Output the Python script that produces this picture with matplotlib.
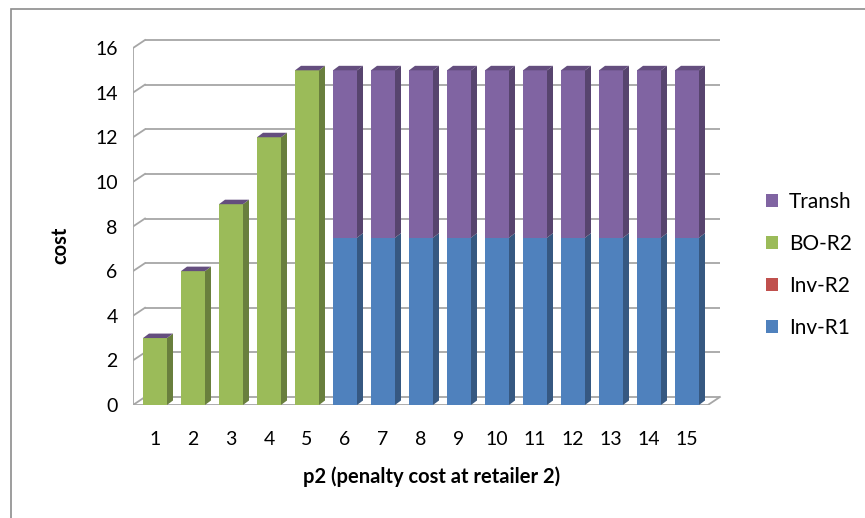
import matplotlib
matplotlib.use("Agg")
import matplotlib.pyplot as plt
from matplotlib.patches import Polygon, Rectangle, Patch
from matplotlib.colors import to_rgb

plt.rcParams['font.family'] = ['Lato', 'DejaVu Sans']

# p2 values and cost components (stacked in this order)
p2 = list(range(1, 16))
inv_r1 = [0, 0, 0, 0, 0] + [7.5] * 10
inv_r2 = [0] * 15
bo_r2 = [3, 6, 9, 12, 15] + [0] * 10
transh = [0, 0, 0, 0, 0] + [7.5] * 10

series = [("Inv-R1", inv_r1, "#4F81BD"),
          ("Inv-R2", inv_r2, "#C0504D"),
          ("BO-R2", bo_r2, "#9BBB59"),
          ("Transh", transh, "#8064A2")]

yticks = list(range(0, 17, 2))


def shade(c, f):
    r, g, b = to_rgb(c)
    return (r * f, g * f, b * f)


fig = plt.figure(figsize=(8.65, 5.18), dpi=100)
ax = fig.add_axes([133 / 865, 1 - 405 / 518, 592 / 865, 379.3 / 518])
x0, x1 = 1 - 22 / 38, 16.0
ax.set_xlim(x0, x1)
ax.set_ylim(0, 17)
for s in ax.spines.values():
    s.set_visible(False)

# depth of the walls and of the columns, in data units
wdx, wdy = 12 / 38, 8 / 22.31
bdx, bdy = 6 / 38, 4.5 / 22.31
bw = 24 / 38
xr_front = 15 + 0.5 + 0.05

grid_c = "#a6a6a6"
# back wall gridlines and left wall diagonals
for v in yticks:
    ax.plot([x0 + wdx, xr_front + wdx], [v + wdy, v + wdy], color=grid_c, lw=1.3, zorder=1,
            solid_capstyle='butt')
    ax.plot([x0, x0 + wdx], [v, v + wdy], color=grid_c, lw=1.3, zorder=1)
ax.plot([x0, x0], [0, 16], color=grid_c, lw=1.3, zorder=1)
# floor outline
ax.plot([x0, xr_front, xr_front + wdx], [0, 0, wdy], color=grid_c, lw=1.3, zorder=1)

# stacked 3d columns
bottoms = [0.0] * len(p2)
for name, vals, col in series:
    ax.bar(p2, vals, width=bw, bottom=bottoms, color=col, zorder=3, linewidth=0)
    for i, x in enumerate(p2):
        b, h = bottoms[i], vals[i]
        if h > 0:
            xr = x + bw / 2
            ax.add_patch(Polygon([(xr, b), (xr + bdx, b + bdy), (xr + bdx, b + h + bdy), (xr, b + h)],
                                 closed=True, facecolor=shade(col, 0.68), edgecolor='none', zorder=3))
    bottoms = [bottoms[i] + vals[i] for i in range(len(p2))]

# top faces belong to the last series of the stack
top_col = shade(series[-1][2], 0.78)
for i, x in enumerate(p2):
    t = bottoms[i]
    xl, xr = x - bw / 2, x + bw / 2
    ax.add_patch(Polygon([(xl, t), (xr, t), (xr + bdx, t + bdy), (xl + bdx, t + bdy)],
                         closed=True, facecolor=top_col, edgecolor='none', zorder=3))

ax.set_yticks(yticks)
ax.set_xticks(p2)
ax.tick_params(axis='y', length=0, pad=11, labelsize=14)
ax.tick_params(axis='x', length=0, pad=19, labelsize=14)

ax.text(-0.123, 0.422, "cost", transform=ax.transAxes, rotation=90, ha='center', va='center',
        fontsize=14.5, fontweight='bold')
ax.text(0.505, -0.19, "p2 (penalty cost at retailer 2)", transform=ax.transAxes, ha='center',
        va='center', fontsize=14.5, fontweight='bold')

handles = [Patch(facecolor=c, edgecolor='none', label=n) for n, v, c in reversed(series)]
fig.legend(handles=handles, loc='center left', bbox_to_anchor=(747 / 865, 1 - 265 / 518),
           frameon=False, fontsize=15, handlelength=0.6, handleheight=0.6, handletextpad=0.5,
           labelspacing=1.05)

# chart outline
fig.add_artist(Rectangle((11 / 865, -0.1), 1.2, 1 - 9 / 518 + 0.1, transform=fig.transFigure,
                         fill=False, edgecolor='#8c8c8c', lw=1.2))

fig.savefig("out.png", dpi=100)
